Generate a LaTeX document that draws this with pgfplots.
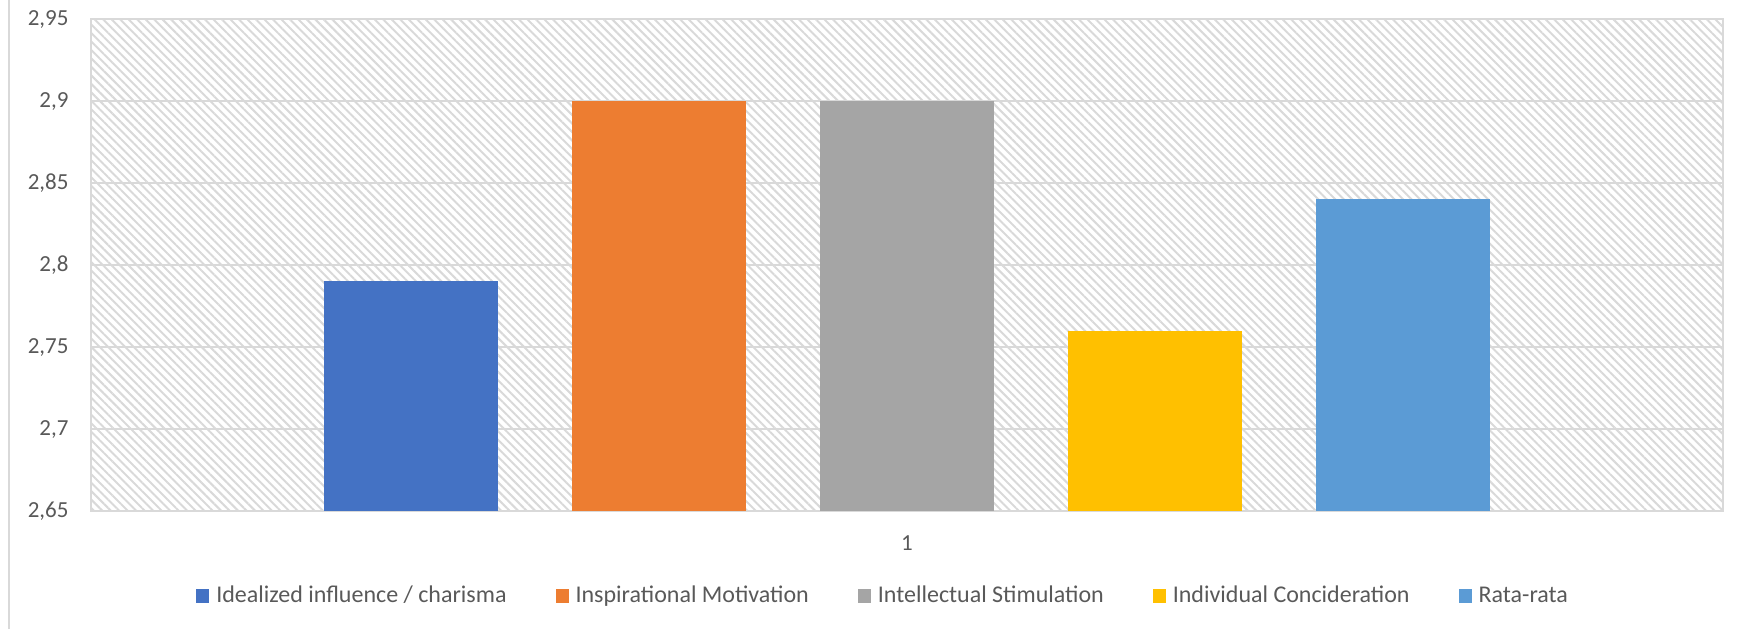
\documentclass[border=0pt]{standalone}
\usepackage{fontspec}
\setmainfont{Carlito}
\usepackage{pgfplots}
\pgfplotsset{compat=1.18}
\usetikzlibrary{patterns.meta}
\definecolor{c1}{HTML}{4472C4}
\definecolor{c2}{HTML}{ED7D31}
\definecolor{c3}{HTML}{A5A5A5}
\definecolor{c4}{HTML}{FFC000}
\definecolor{c5}{HTML}{5B9BD5}
\definecolor{txt}{HTML}{595959}
\definecolor{grd}{HTML}{D9D9D9}
\begin{document}
\begin{tikzpicture}
\path[use as bounding box] (0,0) rectangle (873.5pt,314.5pt);
\draw[grd, line width=1pt] (4.5pt,0) -- (4.5pt,314.5pt);
\begin{axis}[
  at={(45.5pt,59pt)}, anchor=south west,
  scale only axis, width=816pt, height=246pt,
  xmin=-3.29, xmax=3.29, ymin=2.65, ymax=2.95,
  ybar,
  xtick={0}, xticklabels={1},
  ytick={2.65,2.7,2.75,2.8,2.85,2.9,2.95},
  yticklabels={{2,65},{2,7},{2,75},{2,8},{2,85},{2,9},{2,95}},
  ymajorgrids, grid style={grd, line width=1pt},
  axis line style={grd, line width=1pt},
  major tick length=0pt,
  tick label style={font=\fontsize{11.5}{13}\selectfont, text=txt},
  yticklabel style={xshift=-7.7pt},
  xticklabel style={yshift=-9pt},
  axis background/.style={pattern={Lines[angle=-45,distance=3pt,line width=1pt]}, pattern color=grd},
  legend style={at={(0.486,-0.173)}, anchor=center, draw=none, fill=none,
    font=\fontsize{12}{14}\selectfont, text=txt, legend columns=5,
    nodes={inner sep=2pt},
    /tikz/every odd column/.append style={column sep=1.5pt},
    /tikz/every even column/.append style={column sep=22.5pt}},
  legend image code/.code={\fill[#1] (0pt,-3.5pt) rectangle (6.5pt,3.5pt);},
]
\addplot[fill=c1, draw=none, bar width=87pt, bar shift=0pt] coordinates {(-2,2.79)};
\addplot[fill=c2, draw=none, bar width=87pt, bar shift=0pt] coordinates {(-1,2.90)};
\addplot[fill=c3, draw=none, bar width=87pt, bar shift=0pt] coordinates {(0,2.90)};
\addplot[fill=c4, draw=none, bar width=87pt, bar shift=0pt] coordinates {(1,2.76)};
\addplot[fill=c5, draw=none, bar width=87pt, bar shift=0pt] coordinates {(2,2.84)};
\legend{Idealized influence / charisma, Inspirational Motivation, Intellectual Stimulation, Individual Concideration, Rata-rata}
\end{axis}
\end{tikzpicture}
\end{document}
